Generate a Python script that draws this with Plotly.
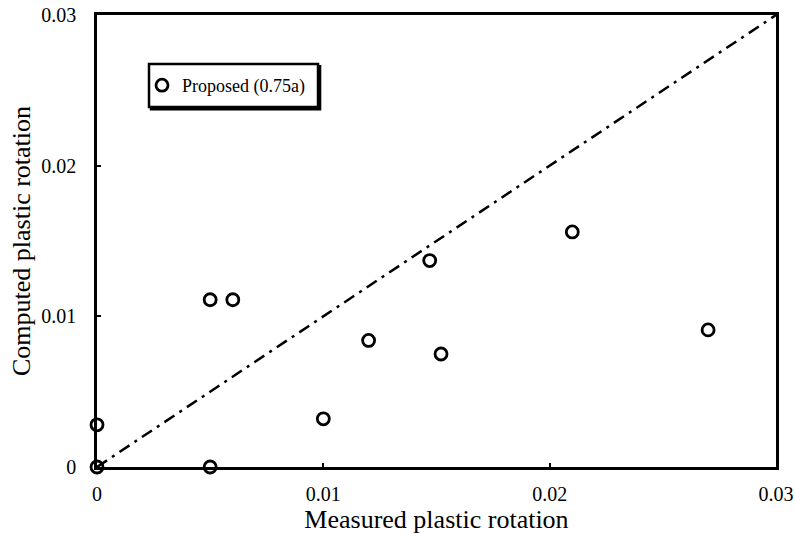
import plotly.graph_objects as go

measured = [0.0, 0.0, 0.005, 0.005, 0.006, 0.010, 0.012, 0.0147, 0.0152, 0.021, 0.027]
computed = [0.0, 0.0028, 0.0, 0.0111, 0.0111, 0.0032, 0.0084, 0.0137, 0.0075, 0.0156, 0.0091]
line_x = [0.0, 0.03]
line_y = [0.0, 0.03]
tick_vals = [0, 0.01, 0.02, 0.03]
tick_text = ["0", "0.01", "0.02", "0.03"]

fig = go.Figure()
fig.add_trace(go.Scatter(
    x=line_x, y=line_y, mode="lines", showlegend=False,
    line=dict(color="black", width=2.5, dash="12px,6px,3px,6px"),
    cliponaxis=False, hoverinfo="skip"))
fig.add_trace(go.Scatter(
    x=measured, y=computed, mode="markers", name="Proposed (0.75a)",
    marker=dict(symbol="circle-open", size=12, color="black", line=dict(width=2.8, color="black")),
    cliponaxis=False))

font = dict(family="Liberation Serif, Times New Roman, serif", color="black")
axis_common = dict(
    range=[0, 0.03], tickvals=tick_vals, ticktext=tick_text,
    showgrid=False, zeroline=False, showline=True, linecolor="black",
    linewidth=2.5, mirror=True, ticks="inside", ticklen=4, tickwidth=2, tickcolor="black",
    automargin=False, tickfont=dict(**font, size=20), ticklabeloverflow="allow",
)
# legend frame with a slight shadow
fig.add_shape(type="rect", xref="paper", yref="paper",
              x0=0.0766 + 0.003, x1=0.3255 + 0.003, y0=0.7965 - 0.005, y1=0.8916 - 0.005,
              line=dict(color="black", width=2.5), fillcolor="black", layer="below")
fig.add_shape(type="rect", xref="paper", yref="paper",
              x0=0.0766, x1=0.3255, y0=0.7965, y1=0.8916,
              line=dict(color="black", width=2.5), fillcolor="white", layer="below")

fig.update_layout(
    width=795, height=535,
    margin=dict(l=97, r=19, t=15, b=68),
    plot_bgcolor="white", paper_bgcolor="white",
    font=dict(**font, size=16),
    showlegend=True,
    legend=dict(x=0.0663, y=0.844, xanchor="left", yanchor="middle",
                borderwidth=0, bgcolor="rgba(0,0,0,0)",
                font=dict(**font, size=18), itemwidth=30,
                tracegroupgap=0),
    xaxis=dict(**axis_common, ticklabelstandoff=7,
               title=dict(text="Measured plastic rotation", font=dict(**font, size=26), standoff=4)),
    yaxis=dict(**axis_common, ticklabelstandoff=14,
               title=dict(text="Computed plastic rotation", font=dict(**font, size=26), standoff=4)),
)
# remove the browser's default 8px body margin so the figure fills the window
fig.write_html("out.html", config={"displayModeBar": False},
               post_script="document.body.style.margin='0';")
